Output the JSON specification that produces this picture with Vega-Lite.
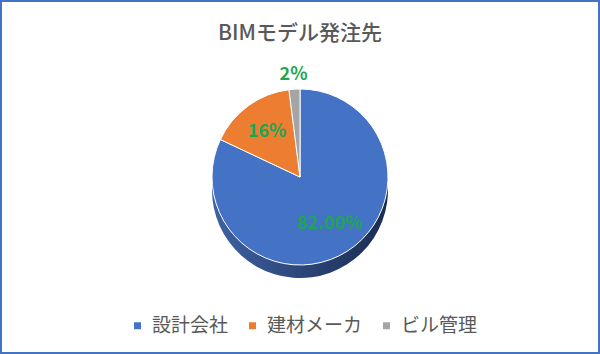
{
  "$schema": "https://vega.github.io/schema/vega-lite/v6.json",
  "width": 600,
  "height": 354,
  "autosize": {"type": "none"},
  "padding": 0,
  "background": "white",
  "view": {"stroke": "#4472C4", "strokeWidth": 4},
  "config": {
    "view": {"stroke": "#4472C4", "strokeWidth": 4},
    "font": "Noto Sans CJK JP"
  },
  "title": {
    "text": "BIMモデル発注先",
    "fontSize": 21,
    "fontWeight": 500,
    "color": "#595959",
    "font": "Noto Sans CJK JP",
    "anchor": "middle",
    "dy": 48
  },
  "data": {
    "values": [
      {"company": "設計会社", "value": 82, "label": "82.00%"},
      {"company": "建材メーカ", "value": 16, "label": "16%"},
      {"company": "ビル管理", "value": 2, "label": "2%"}
    ]
  },
  "encoding": {
    "theta": {"field": "value", "type": "quantitative", "stack": true},
    "order": {"field": "value", "type": "quantitative", "sort": "descending"}
  },
  "layer": [
    {
      "mark": {
        "type": "arc",
        "outerRadius": 88,
        "yOffset": 13,
        "color": {
          "gradient": "linear",
          "x1": 0, "y1": 0, "x2": 1, "y2": 0,
          "stops": [
            {"offset": 0, "color": "#3E62A3"},
            {"offset": 1, "color": "#1B2C50"}
          ]
        }
      }
    },
    {
      "mark": {"type": "arc", "outerRadius": 88, "stroke": "white", "strokeWidth": 1},
      "encoding": {
        "color": {
          "field": "company",
          "type": "nominal",
          "scale": {
            "domain": ["設計会社", "建材メーカ", "ビル管理"],
            "range": ["#4472C4", "#ED7D31", "#A5A5A5"]
          },
          "legend": {
            "orient": "none",
            "legendX": 128,
            "legendY": 316,
            "direction": "horizontal",
            "title": null,
            "symbolType": "square",
            "symbolSize": 49,
            "symbolStrokeWidth": 0,
            "labelFontSize": 19,
            "labelColor": "#595959",
            "labelFont": "Noto Sans CJK JP",
            "labelOffset": 5,
            "columnPadding": 14
          }
        }
      }
    },
    {
      "mark": {
        "type": "text",
        "radius": 56,
        "fontSize": 18,
        "fontWeight": "bold",
        "color": "#1DA653",
        "font": "Noto Sans CJK JP"
      },
      "encoding": {
        "text": {"field": "label", "type": "nominal"},
        "opacity": {"condition": {"test": "datum.value >= 5", "value": 1}, "value": 0}
      }
    },
    {
      "mark": {
        "type": "text",
        "radius": 102,
        "fontSize": 18,
        "fontWeight": "bold",
        "color": "#1DA653",
        "font": "Noto Sans CJK JP"
      },
      "encoding": {
        "text": {"field": "label", "type": "nominal"},
        "opacity": {"condition": {"test": "datum.value < 5", "value": 1}, "value": 0}
      }
    }
  ]
}
